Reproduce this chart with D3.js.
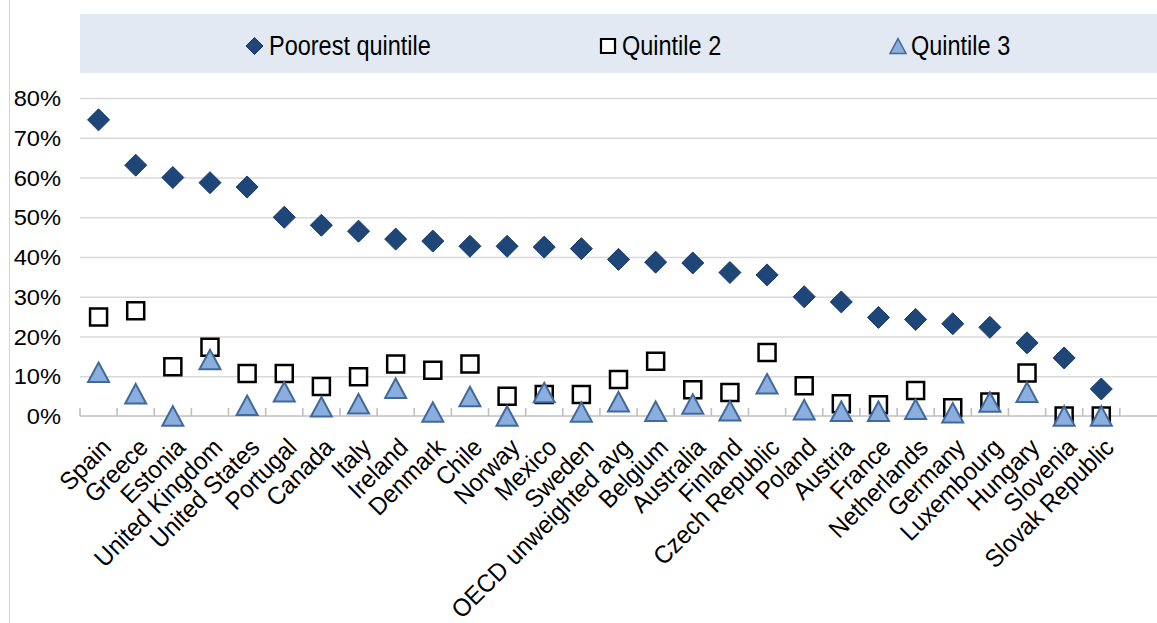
<!DOCTYPE html>
<html>
<head>
<meta charset="utf-8">
<script src="https://cdn.jsdelivr.net/npm/d3@7"></script>
<style>
  html, body { margin: 0; padding: 0; background: #fff; }
  svg { display: block; font-family: "Liberation Sans", Arial, sans-serif; }
</style>
</head>
<body>
<svg id="chart" width="1157" height="623"></svg>
<script>
const categories = ["Spain","Greece","Estonia","United Kingdom","United States","Portugal","Canada","Italy","Ireland","Denmark","Chile","Norway","Mexico","Sweden","OECD unweighted avg","Belgium","Australia","Finland","Czech Republic","Poland","Austria","France","Netherlands","Germany","Luxembourg","Hungary","Slovenia","Slovak Republic"];
const poorest = [74.5,63.1,60.0,58.7,57.6,50.0,48.0,46.5,44.5,44.0,42.7,42.7,42.5,42.1,39.4,38.7,38.5,36.1,35.5,30.0,28.7,24.8,24.3,23.2,22.3,18.4,14.6,6.8];
const quintile2 = [24.9,26.5,12.4,17.3,10.7,10.7,7.4,9.9,13.1,11.5,13.1,5.0,5.4,5.4,9.2,13.8,6.6,5.9,16.0,7.6,3.1,2.8,6.4,2.1,3.5,10.8,0,0];
const quintile3 = [11.0,5.6,0,14.2,2.7,6.1,2.3,3.1,7.0,1.0,4.9,0,5.9,1.0,3.6,1.2,3.0,1.3,8.1,1.6,1.2,1.2,1.7,0.8,3.5,6.0,0,0];
const yTicks = [0,10,20,30,40,50,60,70,80];
const seriesNames = ["Poorest quintile","Quintile 2","Quintile 3"];

const svg = d3.select("#chart");
const W = 1157;
const pLeft = 80, pRight = 1157, pTop = 98, pBottom = 416;
const slots = categories.length + 1;
const bw = (pRight - pLeft) / slots;

const x = d3.scaleBand().domain(categories).range([pLeft, pLeft + bw * categories.length]).padding(0);
const y = d3.scaleLinear().domain([0, 80]).range([pBottom, pTop]);

// left border line
svg.append("line").attr("x1", 9.5).attr("x2", 9.5).attr("y1", 0).attr("y2", 623)
  .attr("stroke", "#d4d4d4").attr("stroke-width", 1);

// legend box
svg.append("rect").attr("x", 80).attr("y", 14).attr("width", W - 80).attr("height", 59).attr("fill", "#e2e9f3");

// gridlines
const grid = svg.append("g").attr("transform", `translate(${pLeft},0)`)
  .call(d3.axisLeft(y).tickValues(yTicks.filter(d => d > 0)).tickSize(-(pRight - pLeft)).tickFormat(""));
grid.select(".domain").remove();
grid.selectAll("line").attr("stroke", "#d9d9d9").attr("stroke-width", 1.6);

// y labels
const yAxis = svg.append("g").attr("transform", `translate(61,0)`)
  .call(d3.axisLeft(y).tickValues(yTicks).tickSize(0).tickPadding(0).tickFormat(d => d + "%"));
yAxis.select(".domain").remove();
yAxis.selectAll("text")
  .attr("font-size", 21.5).attr("fill", "#000").attr("font-family", "Liberation Sans, Arial, sans-serif")
  .attr("x", 0).attr("dy", null).attr("y", 7.6)
  .attr("transform", "scale(1.1,1)");

// x axis line
svg.append("line").attr("x1", pLeft).attr("x2", pRight).attr("y1", y(0)).attr("y2", y(0))
  .attr("stroke", "#bfbfbf").attr("stroke-width", 1.6);
const boundaries = d3.range(categories.length + 1).map(i => i < categories.length ? x(categories[i]) : x(categories[i - 1]) + x.bandwidth());
svg.append("g").selectAll("line").data(boundaries).join("line")
  .attr("x1", d => d).attr("x2", d => d).attr("y1", y(0)).attr("y2", y(0) - 8)
  .attr("stroke", "#bfbfbf").attr("stroke-width", 1.6);

// x labels
svg.append("g").selectAll("text").data(categories).join("text")
  .attr("transform", d => `translate(${x(d) + x.bandwidth() / 2 + 14},${449}) rotate(-45) scale(0.95,1)`)
  .attr("text-anchor", "end")
  .attr("font-size", 25)
  .attr("fill", "#000")
  .text(d => d);

// marker shapes
const diamondType = { draw(ctx, size) { const r = Math.sqrt(size) / 2; ctx.moveTo(0, -r); ctx.lineTo(r, 0); ctx.lineTo(0, r); ctx.lineTo(-r, 0); ctx.closePath(); } };
const squareType = { draw(ctx, size) { const r = Math.sqrt(size) / 2; ctx.rect(-r, -r, 2 * r, 2 * r); } };
const triType = { draw(ctx, size) { const r = Math.sqrt(size) / 2; ctx.moveTo(0, -r * 0.93); ctx.lineTo(r, r * 0.93); ctx.lineTo(-r, r * 0.93); ctx.closePath(); } };

function drawSeries(values, type, size, fill, stroke, sw) {
  svg.append("g").selectAll("path").data(values).join("path")
    .attr("transform", (d, i) => `translate(${x(categories[i]) + x.bandwidth() / 2},${y(d)})`)
    .attr("d", d3.symbol().type(type).size(size))
    .attr("fill", fill).attr("stroke", stroke).attr("stroke-width", sw);
}
drawSeries(quintile2, squareType, 17 * 17, "#fff", "#000", 2.5);
drawSeries(quintile3, triType, 21 * 21, "#8aaedd", "#41699c", 2);
drawSeries(poorest, diamondType, 22 * 22, "#1f4678", "#173a66", 1);

// legend
const legendItems = [
  { name: seriesNames[0], type: diamondType, size: 17 * 17, fill: "#1f4678", stroke: "#173a66", sw: 1, mx: 254.5, tx: 269 },
  { name: seriesNames[1], type: squareType, size: 14 * 14, fill: "#fff", stroke: "#000", sw: 2.2, mx: 608, tx: 622 },
  { name: seriesNames[2], type: triType, size: 16 * 16, fill: "#8aaedd", stroke: "#41699c", sw: 1.5, mx: 898, tx: 911 }
];
const lg = svg.append("g");
legendItems.forEach(it => {
  lg.append("path").attr("transform", `translate(${it.mx},46)`).attr("d", d3.symbol().type(it.type).size(it.size))
    .attr("fill", it.fill).attr("stroke", it.stroke).attr("stroke-width", it.sw);
  lg.append("text").attr("transform", `translate(${it.tx},55) scale(0.87,1)`)
    .attr("font-size", 27).attr("fill", "#000").text(it.name);
});
</script>
</body>
</html>
